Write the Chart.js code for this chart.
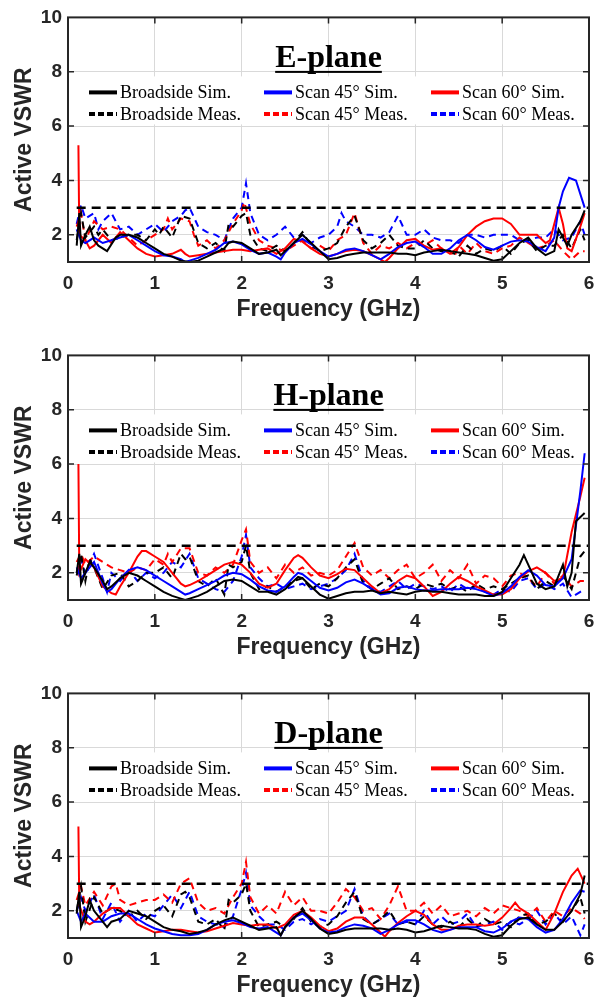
<!DOCTYPE html>
<html><head><meta charset="utf-8">
<script src="https://cdn.jsdelivr.net/npm/chart.js@4.4.0/dist/chart.umd.min.js"></script>
<style>
html,body{margin:0;padding:0;background:#fff;}
.wrap{position:absolute;left:0;width:610px;height:328px;}
canvas{display:block}
</style></head><body>
<div class="wrap" style="top:0px"><canvas id="c0" width="610" height="328"></canvas></div>
<div class="wrap" style="top:338px"><canvas id="c1" width="610" height="328"></canvas></div>
<div class="wrap" style="top:676px"><canvas id="c2" width="610" height="328"></canvas></div>
<script>
// ---------- tick labels / constants ----------
const xTicks = [0, 1, 2, 3, 4, 5, 6];
const yTicks = [2, 4, 6, 8, 10];
const planeTitles = ['E-plane', 'H-plane', 'D-plane'];
const seriesLabels = ['Broadside Sim.', 'Scan 45\u00B0 Sim.', 'Scan 60\u00B0 Sim.', 'Broadside Meas.', 'Scan 45\u00B0 Meas.', 'Scan 60\u00B0 Meas.'];
const thresholdLine = [[0.1, 3], [6, 3]];

// ---------- E-plane [GHz, VSWR] ----------
const eBroadSim = [[0.1,1.6],[0.13,2.8],[0.15,1.6],[0.2,2.0],[0.25,2.3],[0.3,1.8],[0.35,1.6],[0.45,1.4],[0.55,1.9],[0.6,2.0],[0.7,2.0],[0.8,1.9],[0.9,1.7],[1.0,1.5],[1.1,1.3],[1.2,1.2],[1.3,1.05],[1.4,1.0],[1.5,1.05],[1.6,1.2],[1.7,1.35],[1.8,1.5],[1.85,1.7],[1.9,1.75],[2.0,1.7],[2.1,1.5],[2.2,1.3],[2.3,1.35],[2.4,1.45],[2.45,1.25],[2.5,1.4],[2.6,1.7],[2.7,2.0],[2.8,1.7],[2.9,1.4],[3.0,1.1],[3.1,1.15],[3.2,1.25],[3.3,1.3],[3.4,1.35],[3.5,1.35],[3.6,1.35],[3.7,1.35],[3.8,1.3],[3.9,1.3],[4.0,1.25],[4.1,1.35],[4.2,1.4],[4.3,1.45],[4.4,1.4],[4.5,1.35],[4.6,1.3],[4.7,1.25],[4.8,1.15],[4.9,1.05],[5.0,1.1],[5.1,1.4],[5.2,1.7],[5.3,1.9],[5.4,1.5],[5.5,1.25],[5.6,1.4],[5.65,2.2],[5.7,1.9],[5.75,1.6],[5.8,2.0],[5.9,2.5],[5.95,2.9]];
const eScan45Sim = [[0.1,2.2],[0.15,1.8],[0.2,1.7],[0.3,1.9],[0.4,1.7],[0.5,1.8],[0.6,1.9],[0.7,2.0],[0.8,1.8],[0.9,1.6],[1.0,1.4],[1.1,1.25],[1.2,1.2],[1.3,1.1],[1.35,1.0],[1.4,1.05],[1.5,1.15],[1.6,1.3],[1.7,1.45],[1.8,1.7],[1.9,1.75],[2.0,1.65],[2.1,1.45],[2.2,1.3],[2.3,1.35],[2.4,1.2],[2.45,1.1],[2.5,1.35],[2.6,1.7],[2.7,1.85],[2.8,1.65],[2.9,1.4],[3.0,1.2],[3.1,1.3],[3.2,1.45],[3.3,1.5],[3.4,1.4],[3.5,1.25],[3.6,1.1],[3.7,1.3],[3.8,1.55],[3.9,1.7],[4.0,1.75],[4.1,1.55],[4.2,1.3],[4.3,1.3],[4.4,1.5],[4.5,1.8],[4.6,2.0],[4.7,1.8],[4.8,1.55],[4.9,1.45],[5.0,1.6],[5.1,1.75],[5.2,1.8],[5.3,1.75],[5.4,1.55],[5.5,1.4],[5.6,1.9],[5.65,3.0],[5.7,3.6],[5.77,4.1],[5.85,4.0],[5.95,3.0]];
const eScan60Sim = [[0.12,5.3],[0.13,2.0],[0.2,1.8],[0.25,1.5],[0.3,1.6],[0.4,2.0],[0.5,1.7],[0.6,2.1],[0.7,1.8],[0.8,1.5],[0.9,1.3],[1.0,1.2],[1.1,1.25],[1.2,1.3],[1.3,1.45],[1.35,1.3],[1.4,1.2],[1.5,1.25],[1.6,1.3],[1.7,1.35],[1.8,1.4],[1.9,1.45],[2.0,1.45],[2.1,1.4],[2.2,1.45],[2.3,1.5],[2.4,1.3],[2.5,1.5],[2.6,1.85],[2.7,1.75],[2.8,1.5],[2.9,1.3],[3.0,1.2],[3.1,1.3],[3.2,1.4],[3.3,1.45],[3.4,1.4],[3.5,1.25],[3.6,1.1],[3.65,1.0],[3.7,1.15],[3.8,1.5],[3.9,1.8],[4.0,1.85],[4.1,1.6],[4.2,1.45],[4.3,1.5],[4.4,1.3],[4.5,1.55],[4.6,2.0],[4.7,2.3],[4.8,2.5],[4.9,2.6],[5.0,2.6],[5.1,2.4],[5.2,2.0],[5.3,2.0],[5.4,2.0],[5.5,1.7],[5.55,1.8],[5.65,3.0],[5.7,2.4],[5.75,1.5],[5.8,1.4],[5.9,2.3],[5.95,2.8]];
const eBroadMeas = [[0.1,1.8],[0.15,2.8],[0.2,1.9],[0.3,2.3],[0.35,2.0],[0.4,2.2],[0.5,1.8],[0.6,1.9],[0.7,2.0],[0.8,2.0],[0.9,1.8],[1.0,2.2],[1.05,2.0],[1.1,2.3],[1.2,1.9],[1.3,2.7],[1.4,2.6],[1.5,1.7],[1.6,1.5],[1.7,1.7],[1.8,1.4],[1.85,2.4],[1.9,2.3],[2.0,2.7],[2.05,2.8],[2.1,2.0],[2.2,1.5],[2.3,1.4],[2.4,1.6],[2.5,1.4],[2.6,1.7],[2.7,2.1],[2.8,1.6],[2.9,1.4],[3.0,1.5],[3.1,1.7],[3.2,2.3],[3.3,2.7],[3.4,1.8],[3.5,1.5],[3.6,1.7],[3.7,2.0],[3.8,1.6],[3.9,1.5],[4.0,1.5],[4.1,1.8],[4.2,1.5],[4.3,1.4],[4.4,1.4],[4.5,1.2],[4.6,1.6],[4.7,1.3],[4.8,1.5],[4.9,1.4],[5.0,1.6],[5.1,1.3],[5.2,1.7],[5.3,1.8],[5.4,1.4],[5.5,1.6],[5.6,1.6],[5.7,2.0],[5.8,1.5],[5.9,2.2],[5.95,1.8]];
const eScan45Meas = [[0.1,2.3],[0.15,2.8],[0.2,1.8],[0.3,2.5],[0.4,2.2],[0.5,2.3],[0.6,2.2],[0.7,1.9],[0.8,1.6],[0.9,1.8],[1.0,2.0],[1.1,2.2],[1.15,2.6],[1.2,2.2],[1.3,2.6],[1.4,2.5],[1.45,2.0],[1.5,1.6],[1.6,1.8],[1.7,1.5],[1.8,1.8],[1.9,2.4],[2.0,2.9],[2.03,3.2],[2.1,2.4],[2.2,1.8],[2.3,1.6],[2.4,1.5],[2.5,1.4],[2.6,1.6],[2.7,1.8],[2.8,1.5],[2.9,1.6],[3.0,1.4],[3.1,1.8],[3.2,2.0],[3.3,2.8],[3.4,1.7],[3.5,1.3],[3.6,1.6],[3.7,1.5],[3.8,1.7],[3.9,1.5],[4.0,1.7],[4.1,1.6],[4.2,1.8],[4.3,1.5],[4.4,1.4],[4.45,1.2],[4.5,1.6],[4.6,1.3],[4.7,1.7],[4.8,1.4],[4.9,1.3],[5.0,1.5],[5.1,1.6],[5.2,1.9],[5.3,1.7],[5.4,1.5],[5.5,1.6],[5.6,1.8],[5.7,1.4],[5.8,1.1],[5.9,1.4],[5.95,1.4]];
const eScan60Meas = [[0.1,2.4],[0.15,3.1],[0.2,2.6],[0.3,2.8],[0.35,2.2],[0.4,2.5],[0.5,2.8],[0.6,2.2],[0.7,2.3],[0.8,2.0],[0.9,2.2],[1.0,2.4],[1.1,2.1],[1.2,2.5],[1.3,2.7],[1.35,2.9],[1.4,3.0],[1.5,2.3],[1.6,2.1],[1.7,2.0],[1.8,1.8],[1.9,2.6],[2.0,3.0],[2.05,3.9],[2.1,2.8],[2.2,2.0],[2.3,1.8],[2.4,2.0],[2.5,2.3],[2.6,1.9],[2.7,2.0],[2.8,1.7],[2.9,1.9],[3.0,2.0],[3.1,2.3],[3.15,2.8],[3.2,2.5],[3.3,2.3],[3.4,2.0],[3.5,2.0],[3.6,1.9],[3.7,2.1],[3.8,2.7],[3.9,2.0],[4.0,2.0],[4.1,2.2],[4.2,1.9],[4.3,1.8],[4.4,1.8],[4.5,1.7],[4.6,2.0],[4.7,2.0],[4.8,1.9],[4.9,2.0],[5.0,2.0],[5.1,2.0],[5.2,1.8],[5.3,1.8],[5.4,1.9],[5.5,1.9],[5.6,2.2],[5.7,1.8],[5.8,1.9],[5.9,2.5],[5.95,2.0]];

// ---------- H-plane ----------
const hBroadSim = [[0.1,2.0],[0.13,2.7],[0.15,1.6],[0.2,2.0],[0.25,2.4],[0.3,2.2],[0.4,1.7],[0.45,1.4],[0.5,1.5],[0.6,1.8],[0.7,2.0],[0.8,1.9],[0.9,1.7],[1.0,1.5],[1.1,1.3],[1.2,1.15],[1.3,1.05],[1.35,1.0],[1.4,1.05],[1.5,1.15],[1.6,1.3],[1.7,1.5],[1.8,1.7],[1.9,1.75],[2.0,1.7],[2.1,1.5],[2.2,1.3],[2.3,1.3],[2.4,1.2],[2.5,1.4],[2.6,1.7],[2.65,1.85],[2.7,1.8],[2.8,1.5],[2.9,1.2],[3.0,1.05],[3.1,1.15],[3.2,1.25],[3.3,1.3],[3.4,1.3],[3.5,1.35],[3.6,1.25],[3.7,1.3],[3.8,1.25],[3.9,1.2],[4.0,1.3],[4.1,1.35],[4.2,1.3],[4.3,1.3],[4.4,1.25],[4.5,1.2],[4.6,1.2],[4.7,1.2],[4.8,1.15],[4.9,1.15],[5.0,1.3],[5.1,1.8],[5.2,2.3],[5.25,2.65],[5.3,2.3],[5.4,1.6],[5.5,1.4],[5.6,1.5],[5.7,2.3],[5.75,1.5],[5.8,2.0],[5.85,3.9],[5.95,4.2]];
const hScan45Sim = [[0.1,2.2],[0.15,1.8],[0.2,2.0],[0.3,2.4],[0.4,1.6],[0.45,1.3],[0.5,1.4],[0.6,1.8],[0.7,2.1],[0.8,2.2],[0.9,2.1],[1.0,1.9],[1.1,1.7],[1.2,1.5],[1.3,1.3],[1.35,1.2],[1.4,1.25],[1.5,1.4],[1.6,1.55],[1.7,1.7],[1.8,1.9],[1.9,2.0],[2.0,1.95],[2.1,1.75],[2.2,1.5],[2.3,1.35],[2.4,1.3],[2.5,1.5],[2.6,1.85],[2.65,2.0],[2.7,1.95],[2.8,1.7],[2.9,1.45],[3.0,1.35],[3.1,1.45],[3.2,1.65],[3.3,1.75],[3.4,1.6],[3.5,1.4],[3.6,1.2],[3.7,1.25],[3.8,1.45],[3.9,1.5],[4.0,1.4],[4.1,1.35],[4.2,1.35],[4.3,1.4],[4.4,1.4],[4.5,1.4],[4.6,1.45],[4.7,1.4],[4.8,1.3],[4.9,1.15],[5.0,1.25],[5.1,1.5],[5.2,1.85],[5.3,2.1],[5.4,1.9],[5.5,1.55],[5.6,1.5],[5.7,1.8],[5.8,2.5],[5.9,5.0],[5.95,6.4]];
const hScan60Sim = [[0.12,6.0],[0.13,2.0],[0.2,2.5],[0.3,2.2],[0.4,1.5],[0.5,1.25],[0.55,1.2],[0.6,1.5],[0.7,2.0],[0.8,2.6],[0.85,2.8],[0.9,2.8],[1.0,2.6],[1.1,2.4],[1.2,2.0],[1.3,1.6],[1.35,1.5],[1.4,1.55],[1.5,1.7],[1.6,1.9],[1.7,2.1],[1.8,2.3],[1.9,2.4],[2.0,2.3],[2.1,2.0],[2.2,1.6],[2.3,1.45],[2.4,1.6],[2.5,2.1],[2.6,2.55],[2.65,2.65],[2.7,2.55],[2.8,2.2],[2.9,1.9],[3.0,1.8],[3.1,1.95],[3.2,2.15],[3.3,2.1],[3.4,1.8],[3.5,1.5],[3.6,1.25],[3.7,1.4],[3.8,1.7],[3.9,1.9],[4.0,1.8],[4.1,1.5],[4.2,1.15],[4.3,1.3],[4.4,1.6],[4.5,1.85],[4.6,1.7],[4.7,1.5],[4.8,1.35],[4.9,1.2],[5.0,1.2],[5.1,1.4],[5.2,1.8],[5.3,2.05],[5.4,2.2],[5.5,2.0],[5.6,1.7],[5.7,1.8],[5.8,3.5],[5.9,4.8],[5.95,5.5]];
const hBroadMeas = [[0.1,1.9],[0.15,2.7],[0.2,1.7],[0.25,2.5],[0.3,2.2],[0.4,1.4],[0.5,1.9],[0.6,2.0],[0.7,1.5],[0.8,1.7],[0.9,2.0],[1.0,2.0],[1.1,2.2],[1.2,1.8],[1.3,2.7],[1.35,2.5],[1.4,2.6],[1.5,1.7],[1.6,1.5],[1.7,1.8],[1.8,1.2],[1.85,2.3],[1.9,2.2],[2.0,2.4],[2.05,3.0],[2.1,2.0],[2.2,1.4],[2.3,1.5],[2.4,1.3],[2.5,1.5],[2.6,1.7],[2.7,1.8],[2.8,1.4],[2.9,1.6],[3.0,1.5],[3.1,1.8],[3.2,2.2],[3.3,2.5],[3.4,1.6],[3.5,1.4],[3.6,1.6],[3.7,1.8],[3.8,1.4],[3.9,1.5],[4.0,1.4],[4.1,1.6],[4.2,1.5],[4.3,1.6],[4.4,1.4],[4.5,1.5],[4.6,1.3],[4.7,1.6],[4.8,1.4],[4.9,1.5],[5.0,1.4],[5.1,1.6],[5.2,1.8],[5.3,1.9],[5.4,1.4],[5.5,1.7],[5.6,1.5],[5.7,1.9],[5.8,1.4],[5.9,2.6],[5.95,2.8]];
const hScan45Meas = [[0.1,2.4],[0.15,2.7],[0.2,2.3],[0.3,2.6],[0.4,2.4],[0.5,2.2],[0.6,2.1],[0.7,2.0],[0.8,2.2],[0.9,2.1],[1.0,2.5],[1.1,2.3],[1.15,2.7],[1.2,2.4],[1.3,2.9],[1.4,2.9],[1.5,2.0],[1.6,1.9],[1.7,2.2],[1.8,2.0],[1.9,2.3],[2.0,3.2],[2.05,3.6],[2.1,2.4],[2.2,2.0],[2.3,2.2],[2.4,1.8],[2.5,2.3],[2.6,2.0],[2.7,2.2],[2.8,1.9],[2.9,2.0],[3.0,1.9],[3.1,2.1],[3.2,2.6],[3.3,3.1],[3.4,2.2],[3.5,1.9],[3.6,2.1],[3.7,1.8],[3.8,2.1],[3.9,2.3],[4.0,1.8],[4.1,2.0],[4.2,2.3],[4.3,1.7],[4.4,2.1],[4.5,1.8],[4.6,2.3],[4.7,1.6],[4.8,1.9],[4.9,1.8],[5.0,1.5],[5.1,1.9],[5.2,2.0],[5.3,1.8],[5.4,1.5],[5.5,2.0],[5.6,1.6],[5.7,1.9],[5.8,1.5],[5.9,1.7],[5.95,1.7]];
const hScan60Meas = [[0.1,2.0],[0.15,2.5],[0.2,2.0],[0.3,2.7],[0.4,1.8],[0.45,1.3],[0.5,2.0],[0.6,1.7],[0.7,2.1],[0.8,1.7],[0.9,2.0],[1.0,1.8],[1.1,2.0],[1.2,2.4],[1.3,2.2],[1.4,2.7],[1.5,1.8],[1.6,1.6],[1.7,1.4],[1.8,1.3],[1.9,1.7],[2.0,2.6],[2.05,3.4],[2.1,2.2],[2.2,1.8],[2.3,1.5],[2.4,1.6],[2.5,1.4],[2.6,1.5],[2.7,1.6],[2.8,1.4],[2.9,1.5],[3.0,1.6],[3.1,1.8],[3.2,2.1],[3.3,2.7],[3.4,1.7],[3.5,1.4],[3.6,1.3],[3.7,1.5],[3.8,1.7],[3.9,1.4],[4.0,1.6],[4.1,1.5],[4.2,1.4],[4.3,1.5],[4.4,1.3],[4.5,1.6],[4.6,1.4],[4.7,1.5],[4.8,1.3],[4.9,1.2],[5.0,1.4],[5.1,1.3],[5.2,1.7],[5.3,1.8],[5.4,1.4],[5.5,1.6],[5.6,1.4],[5.7,1.6],[5.8,1.1],[5.9,1.3],[5.95,1.4]];

// ---------- D-plane ----------
const dBroadSim = [[0.1,1.9],[0.13,2.7],[0.15,1.4],[0.2,1.8],[0.25,2.4],[0.3,2.0],[0.4,1.6],[0.45,1.4],[0.5,1.6],[0.6,1.7],[0.7,2.0],[0.8,1.9],[0.9,1.8],[1.0,1.6],[1.1,1.4],[1.2,1.3],[1.3,1.25],[1.4,1.15],[1.5,1.2],[1.6,1.3],[1.7,1.5],[1.8,1.65],[1.9,1.75],[2.0,1.6],[2.1,1.45],[2.2,1.3],[2.3,1.35],[2.4,1.4],[2.45,1.1],[2.5,1.4],[2.6,1.75],[2.7,2.0],[2.8,1.7],[2.9,1.35],[3.0,1.15],[3.1,1.2],[3.2,1.3],[3.3,1.35],[3.4,1.35],[3.5,1.35],[3.6,1.35],[3.7,1.3],[3.8,1.35],[3.9,1.3],[4.0,1.2],[4.1,1.25],[4.2,1.35],[4.3,1.45],[4.4,1.4],[4.5,1.35],[4.6,1.35],[4.7,1.3],[4.8,1.15],[4.9,1.05],[5.0,1.1],[5.1,1.45],[5.2,1.7],[5.3,1.75],[5.4,1.5],[5.5,1.3],[5.6,1.3],[5.7,1.6],[5.8,2.0],[5.9,2.6],[5.95,3.3]];
const dScan45Sim = [[0.1,2.0],[0.15,1.6],[0.2,1.9],[0.3,1.6],[0.4,1.6],[0.5,1.8],[0.6,1.9],[0.7,1.9],[0.8,1.7],[0.9,1.5],[1.0,1.35],[1.1,1.25],[1.2,1.15],[1.3,1.1],[1.4,1.1],[1.5,1.15],[1.6,1.3],[1.7,1.5],[1.8,1.6],[1.9,1.65],[2.0,1.55],[2.1,1.4],[2.2,1.35],[2.3,1.4],[2.4,1.2],[2.45,1.1],[2.5,1.4],[2.6,1.75],[2.7,1.9],[2.8,1.65],[2.9,1.35],[3.0,1.2],[3.1,1.25],[3.2,1.4],[3.3,1.5],[3.4,1.45],[3.5,1.35],[3.6,1.15],[3.7,1.3],[3.8,1.5],[3.9,1.65],[4.0,1.65],[4.1,1.5],[4.2,1.3],[4.3,1.2],[4.4,1.3],[4.5,1.4],[4.6,1.4],[4.7,1.4],[4.8,1.25],[4.9,1.2],[5.0,1.35],[5.1,1.6],[5.2,1.75],[5.3,1.7],[5.4,1.4],[5.5,1.2],[5.6,1.3],[5.7,1.7],[5.8,2.3],[5.9,2.75],[5.95,2.7]];
const dScan60Sim = [[0.12,5.1],[0.13,2.2],[0.2,1.6],[0.25,1.5],[0.3,1.6],[0.4,1.9],[0.5,2.1],[0.6,2.1],[0.7,1.8],[0.8,1.5],[0.9,1.35],[1.0,1.2],[1.1,1.25],[1.2,1.3],[1.3,1.3],[1.4,1.25],[1.5,1.2],[1.6,1.25],[1.7,1.35],[1.8,1.45],[1.9,1.55],[2.0,1.5],[2.1,1.45],[2.2,1.5],[2.3,1.5],[2.4,1.35],[2.5,1.5],[2.6,1.85],[2.7,2.0],[2.8,1.75],[2.9,1.45],[3.0,1.25],[3.1,1.35],[3.2,1.6],[3.3,1.75],[3.4,1.75],[3.5,1.5],[3.6,1.2],[3.65,1.05],[3.7,1.25],[3.8,1.55],[3.9,1.8],[4.0,2.0],[4.1,1.85],[4.2,1.5],[4.3,1.3],[4.4,1.3],[4.5,1.45],[4.6,1.5],[4.7,1.5],[4.8,1.45],[4.9,1.5],[5.0,1.75],[5.1,2.1],[5.15,2.3],[5.2,2.1],[5.3,1.9],[5.4,1.6],[5.5,1.3],[5.6,1.9],[5.7,2.7],[5.8,3.3],[5.87,3.55],[5.95,3.0]];
const dBroadMeas = [[0.1,2.0],[0.15,2.9],[0.2,1.6],[0.3,2.5],[0.4,1.9],[0.5,2.1],[0.6,2.0],[0.7,1.8],[0.8,2.0],[0.9,1.7],[1.0,2.0],[1.1,2.2],[1.2,1.8],[1.3,2.6],[1.35,2.7],[1.4,2.5],[1.5,1.6],[1.6,1.5],[1.7,1.7],[1.8,1.3],[1.85,2.4],[1.9,2.3],[2.0,2.6],[2.05,3.0],[2.1,2.0],[2.2,1.4],[2.3,1.5],[2.4,1.6],[2.5,1.4],[2.6,1.7],[2.7,2.1],[2.8,1.6],[2.9,1.4],[3.0,1.5],[3.1,1.8],[3.2,2.3],[3.3,2.7],[3.4,1.7],[3.5,1.5],[3.6,1.7],[3.7,2.0],[3.8,1.5],[3.9,1.6],[4.0,1.5],[4.1,1.8],[4.2,1.5],[4.3,1.4],[4.4,1.6],[4.5,1.4],[4.6,1.7],[4.7,1.4],[4.8,1.7],[4.9,1.5],[5.0,1.6],[5.1,1.4],[5.2,1.8],[5.3,1.9],[5.4,1.5],[5.5,1.6],[5.6,1.9],[5.7,1.6],[5.8,2.0],[5.9,2.5],[5.95,1.9]];
const dScan45Meas = [[0.1,2.4],[0.15,2.9],[0.2,2.2],[0.3,2.7],[0.4,2.2],[0.5,2.9],[0.55,3.0],[0.6,2.4],[0.7,2.2],[0.8,2.3],[0.9,2.4],[1.0,2.4],[1.1,2.6],[1.2,2.3],[1.3,3.0],[1.4,3.2],[1.5,2.3],[1.6,2.0],[1.7,2.1],[1.8,1.9],[1.9,2.5],[2.0,3.0],[2.05,3.8],[2.1,2.5],[2.2,1.9],[2.3,2.2],[2.4,1.9],[2.5,2.7],[2.6,2.2],[2.7,2.5],[2.8,2.0],[2.9,2.0],[3.0,1.9],[3.1,2.3],[3.2,2.8],[3.3,2.5],[3.4,2.0],[3.5,2.1],[3.6,1.7],[3.7,2.2],[3.8,2.9],[3.9,2.0],[4.0,2.0],[4.1,2.3],[4.2,1.9],[4.3,2.2],[4.4,1.8],[4.5,1.9],[4.6,2.0],[4.7,1.8],[4.8,2.1],[4.9,1.9],[5.0,2.2],[5.1,2.1],[5.2,2.0],[5.3,1.8],[5.4,2.1],[5.5,1.6],[5.6,2.0],[5.7,1.8],[5.8,2.1],[5.9,1.9],[5.95,1.7]];
const dScan60Meas = [[0.1,2.0],[0.15,2.5],[0.2,2.0],[0.3,2.6],[0.4,1.7],[0.5,2.3],[0.6,1.6],[0.7,2.0],[0.8,1.6],[0.9,1.9],[1.0,1.8],[1.1,2.2],[1.2,2.6],[1.3,2.1],[1.4,2.7],[1.5,1.8],[1.6,1.6],[1.7,1.5],[1.8,1.4],[1.9,1.8],[2.0,2.8],[2.05,3.4],[2.1,2.2],[2.2,1.8],[2.3,1.5],[2.4,1.5],[2.5,1.3],[2.6,1.6],[2.7,1.7],[2.8,1.5],[2.9,1.7],[3.0,1.6],[3.1,1.8],[3.2,2.0],[3.3,2.8],[3.4,1.8],[3.5,1.5],[3.6,1.7],[3.7,1.9],[3.8,1.5],[3.9,1.6],[4.0,1.5],[4.1,2.0],[4.2,1.5],[4.3,1.8],[4.4,1.5],[4.5,1.6],[4.6,1.9],[4.7,1.4],[4.8,1.5],[4.9,1.6],[5.0,1.3],[5.1,1.6],[5.2,1.5],[5.3,1.7],[5.4,2.0],[5.5,1.5],[5.6,1.9],[5.7,1.5],[5.8,1.8],[5.9,1.1],[5.95,1.5]];

// ---------- styles ----------
const seriesColors = ['#000000', '#0000ff', '#ff0000', '#000000', '#ff0000', '#0000ff'];
const seriesDashed = [false, false, false, true, true, true];
const AX = '#262626';

function toXY(arr) { return arr.map(p => ({x: p[0], y: p[1]})); }

const framePlugin = {
  id: 'frame',
  beforeDatasetsDraw(chart, args, opts) {
    const ctx = chart.ctx, a = chart.chartArea;
    ctx.save();
    // white legend box
    ctx.fillStyle = '#ffffff';
    ctx.fillRect(a.left + 7, a.top + 59, a.right - a.left - 14, 48);
    // title
    ctx.fillStyle = '#000';
    ctx.font = 'bold 32px "Liberation Serif", "Times New Roman", serif';
    ctx.textAlign = 'center';
    ctx.textBaseline = 'alphabetic';
    const cx = (a.left + a.right) / 2;
    const tw = ctx.measureText(opts.title).width;
    ctx.fillText(opts.title, cx, a.top + 50);
    ctx.fillRect(cx - tw / 2, a.top + 53.5, tw, 2);
    // legend
    const colX = [a.left + 21, a.left + 196, a.left + 363];
    const rowY = [a.top + 75, a.top + 96.5];
    ctx.font = '18px "Liberation Serif", "Times New Roman", serif';
    ctx.textAlign = 'left';
    ctx.textBaseline = 'middle';
    for (let i = 0; i < 6; i++) {
      const c = i % 3, r = Math.floor(i / 3);
      const x = colX[c], y = rowY[r];
      ctx.strokeStyle = seriesColors[i];
      ctx.lineWidth = 4;
      ctx.setLineDash(seriesDashed[i] ? [6, 3] : []);
      ctx.beginPath();
      ctx.moveTo(x, y); ctx.lineTo(x + 28, y);
      ctx.stroke();
      ctx.setLineDash([]);
      ctx.fillStyle = '#000';
      ctx.fillText(seriesLabels[i], x + 31, y + 1);
    }
    ctx.restore();
  },
  afterDraw(chart) {
    const ctx = chart.ctx, a = chart.chartArea;
    const xs = chart.scales.x, ys = chart.scales.y;
    ctx.save();
    ctx.strokeStyle = AX;
    ctx.lineWidth = 1.5;
    ctx.beginPath();
    xTicks.slice(1, -1).forEach(v => {
      const px = xs.getPixelForValue(v);
      ctx.moveTo(px, a.bottom); ctx.lineTo(px, a.bottom - 6);
      ctx.moveTo(px, a.top); ctx.lineTo(px, a.top + 6);
    });
    yTicks.slice(0, -1).forEach(v => {
      const py = ys.getPixelForValue(v);
      ctx.moveTo(a.left, py); ctx.lineTo(a.left + 6, py);
      ctx.moveTo(a.right, py); ctx.lineTo(a.right - 6, py);
    });
    ctx.stroke();
    ctx.lineWidth = 2;
    ctx.strokeRect(a.left, a.top, a.right - a.left, a.bottom - a.top);
    ctx.restore();
  }
};

function makeChart(id, title, series) {
  const datasets = series.map((s, i) => ({
    label: seriesLabels[i],
    data: toXY(s),
    borderColor: seriesColors[i],
    borderWidth: 2,
    borderDash: seriesDashed[i] ? [7, 5] : [],
    pointRadius: 0,
    tension: 0,
    fill: false,
    order: seriesDashed[i] ? 10 + i : i
  }));
  datasets.push({
    label: 'VSWR = 3',
    data: toXY(thresholdLine),
    borderColor: '#000',
    borderWidth: 2.5,
    borderDash: [9, 6],
    pointRadius: 0,
    order: 0
  });
  const tickFont = {family: '"Liberation Sans", Arial, sans-serif', weight: 'bold', size: 19};
  const titleFont = {family: '"Liberation Sans", Arial, sans-serif', weight: 'bold', size: 23};
  new Chart(document.getElementById(id), {
    type: 'line',
    data: {datasets},
    plugins: [framePlugin],
    options: {
      responsive: false,
      animation: false,
      events: [],
      layout: {padding: {top: 10, right: 21, left: 0, bottom: 0}},
      plugins: {legend: {display: false}, tooltip: {enabled: false}, frame: {title}},
      scales: {
        x: {
          type: 'linear', min: 0, max: 6,
          afterBuildTicks: s => { s.ticks = xTicks.map(v => ({value: v})); },
          afterFit: s => { s.height = 66; },
          grid: {color: '#d9d9d9', lineWidth: 1, drawTicks: false},
          border: {display: false},
          ticks: {padding: 10, color: AX, font: tickFont, maxRotation: 0, autoSkip: false},
          title: {display: true, text: 'Frequency (GHz)', color: AX, font: titleFont, padding: {top: 0, bottom: 5}}
        },
        y: {
          type: 'linear', min: 1, max: 10,
          afterBuildTicks: s => { s.ticks = yTicks.map(v => ({value: v})); },
          afterFit: s => { s.width = 68; },
          grid: {color: '#d9d9d9', lineWidth: 1, drawTicks: false},
          border: {display: false},
          ticks: {padding: 6, color: AX, font: tickFont, autoSkip: false},
          title: {display: true, text: 'Active VSWR', color: AX, font: titleFont, padding: {top: 11, bottom: 0}}
        }
      }
    }
  });
}

makeChart('c0', planeTitles[0], [eBroadSim, eScan45Sim, eScan60Sim, eBroadMeas, eScan45Meas, eScan60Meas]);
makeChart('c1', planeTitles[1], [hBroadSim, hScan45Sim, hScan60Sim, hBroadMeas, hScan45Meas, hScan60Meas]);
makeChart('c2', planeTitles[2], [dBroadSim, dScan45Sim, dScan60Sim, dBroadMeas, dScan45Meas, dScan60Meas]);
</script>
</body></html>
